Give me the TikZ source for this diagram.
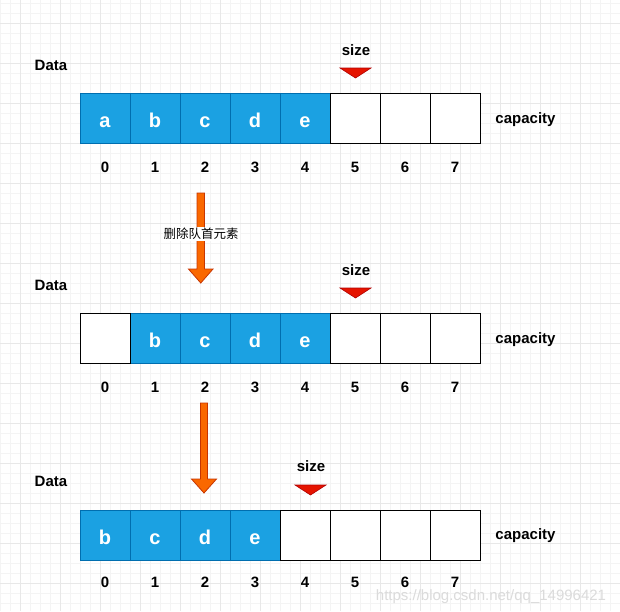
\documentclass[tikz,border=0pt]{standalone}
\usepackage{fontspec}
\setmainfont{Liberation Sans}
\newfontfamily\cjk{Noto Sans CJK SC}
\definecolor{cellblue}{HTML}{1BA1E2}
\definecolor{celledge}{HTML}{006EAF}
\definecolor{arrowfill}{HTML}{FA6800}
\definecolor{arrowedge}{HTML}{C73500}
\definecolor{trifill}{HTML}{E51400}
\definecolor{triedge}{HTML}{B20000}
\definecolor{gridmajor}{HTML}{E8E8E8}
\definecolor{gridminor}{HTML}{F4F4F4}
\begin{document}
\begin{tikzpicture}[x=1pt,y=-1pt,
  cellbox/.style={draw=black, line width=1pt, minimum width=50pt, minimum height=50pt, inner sep=0pt, text height=18pt, text depth=0pt, fill=white, font=\fontsize{20}{24}\selectfont\bfseries},
  bluecell/.style={cellbox, fill=cellblue, draw=celledge, text=white},
  lbl/.style={font=\fontsize{15}{18}\selectfont\bfseries, inner sep=0pt},
  tri/.style={fill=trifill, draw=triedge, line width=0.6pt, line join=miter},
  blockarrow/.style={fill=arrowfill, draw=arrowedge, line width=0.8pt, line join=miter},
  cnlabel/.style={font=\cjk\fontsize{12.5}{15}\selectfont, fill=white, inner sep=1pt},
  wmark/.style={font=\fontsize{15}{18}\selectfont, text=black!14, inner sep=0pt}
]
\useasboundingbox[fill=white] (0,0) rectangle (620,611);
% grid
\foreach \x in {0,10,...,620} \draw[gridminor, line width=0.6pt] (\x,0) -- (\x,611);
\foreach \y in {3,13,...,611} \draw[gridminor, line width=0.6pt] (0,\y) -- (620,\y);
\foreach \x in {20,60,...,620} \draw[gridmajor, line width=0.8pt] (\x,0) -- (\x,611);
\foreach \y in {23,63,...,611} \draw[gridmajor, line width=0.8pt] (0,\y) -- (620,\y);

% ---------- row 1 ----------
\node[lbl] (data1) at (51,65) {Data};
\node[lbl] (size1) at (356,50) {size};
\draw[tri] (340,68) -- (371,68) -- (355.5,78) -- cycle;
\foreach \i/\t in {0/a,1/b,2/c,3/d,4/e}
  \node[bluecell] (r1c\i) at (105+50*\i,118) {\t};
\foreach \i in {5,6,7}
  \node[cellbox] (r1c\i) at (105+50*\i,118) {};
\node[lbl] (cap1) at (525.5,120) {capacity};
\foreach \i in {0,...,7}
  \node[lbl] (r1i\i) at (105+50*\i,167) {\i};

% arrow 1
\draw[blockarrow] (197,193) -- (204.5,193) -- (204.5,269) -- (213,269) -- (200.75,283) -- (188.5,269) -- (197,269) -- cycle;
\node[cnlabel] (op) at (201,234) {删除队首元素};

% ---------- row 2 ----------
\node[lbl] (data2) at (51,285) {Data};
\node[lbl] (size2) at (356,270) {size};
\draw[tri] (340,288) -- (371,288) -- (355.5,298) -- cycle;
\foreach \i/\t in {1/b,2/c,3/d,4/e}
  \node[bluecell] (r2c\i) at (105+50*\i,338) {\t};
\foreach \i in {0,5,6,7}
  \node[cellbox] (r2c\i) at (105+50*\i,338) {};
\node[lbl] (cap2) at (525.5,340) {capacity};
\foreach \i in {0,...,7}
  \node[lbl] (r2i\i) at (105+50*\i,387) {\i};

% arrow 2
\draw[blockarrow] (200.5,403) -- (207.5,403) -- (207.5,479) -- (216.5,479) -- (204,493) -- (191.5,479) -- (200.5,479) -- cycle;

% ---------- row 3 ----------
\node[lbl] (data3) at (51,481) {Data};
\node[lbl] (size3) at (311,466) {size};
\draw[tri] (295,485) -- (326,485) -- (310.5,495) -- cycle;
\foreach \i/\t in {0/b,1/c,2/d,3/e}
  \node[bluecell] (r3c\i) at (105+50*\i,535) {\t};
\foreach \i in {4,5,6,7}
  \node[cellbox] (r3c\i) at (105+50*\i,535) {};
\node[lbl] (cap3) at (525.5,536) {capacity};
\foreach \i in {0,...,7}
  \node[lbl] (r3i\i) at (105+50*\i,582) {\i};

% watermark
\node[wmark] (wm) at (491,597) {https://blog.csdn.net/qq\_14996421};
\end{tikzpicture}
\end{document}
